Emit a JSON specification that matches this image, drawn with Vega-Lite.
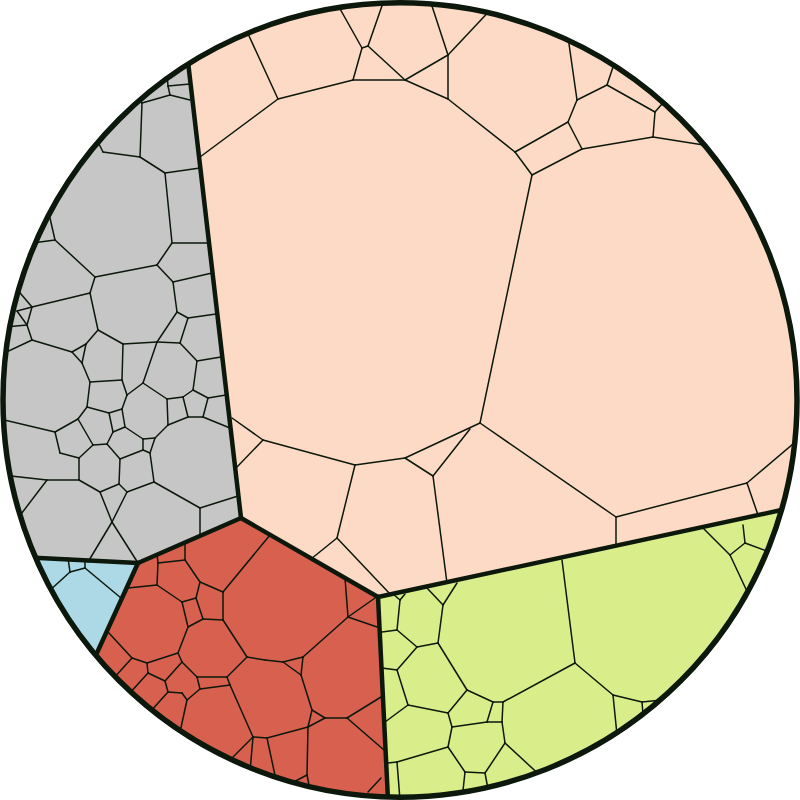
{
  "$schema": "https://vega.github.io/schema/vega-lite/v6.json",
  "width": 800,
  "height": 800,
  "autosize": "none",
  "padding": 0,
  "background": "white",
  "config": {"view": {"stroke": null}},
  "datasets": {
    "regions": [
      {"g": "peach", "i": 0, "x": 175, "y": -50}, {"g": "peach", "i": 1, "x": 850, "y": -50}, {"g": "peach", "i": 2, "x": 850, "y": 495}, {"g": "peach", "i": 3, "x": 378, "y": 597}, {"g": "peach", "i": 4, "x": 241, "y": 518},
      {"g": "gray", "i": 0, "x": 175, "y": -50}, {"g": "gray", "i": 1, "x": 241, "y": 518}, {"g": "gray", "i": 2, "x": 138, "y": 563}, {"g": "gray", "i": 3, "x": -50, "y": 554}, {"g": "gray", "i": 4, "x": -50, "y": -50},
      {"g": "blue", "i": 0, "x": 138, "y": 563}, {"g": "blue", "i": 1, "x": -50, "y": 554}, {"g": "blue", "i": 2, "x": -50, "y": 760}, {"g": "blue", "i": 3, "x": 48, "y": 760},
      {"g": "red", "i": 0, "x": 241, "y": 518}, {"g": "red", "i": 1, "x": 378, "y": 597}, {"g": "red", "i": 2, "x": 390, "y": 850}, {"g": "red", "i": 3, "x": -50, "y": 850}, {"g": "red", "i": 4, "x": -50, "y": 760}, {"g": "red", "i": 5, "x": 48, "y": 760}, {"g": "red", "i": 6, "x": 138, "y": 563},
      {"g": "green", "i": 0, "x": 378, "y": 597}, {"g": "green", "i": 1, "x": 850, "y": 495}, {"g": "green", "i": 2, "x": 850, "y": 850}, {"g": "green", "i": 3, "x": 390, "y": 850}
    ],
    "edges": [
      {"x1": 244, "y1": 25, "x2": 278, "y2": 99}, {"x1": 200, "y1": 157, "x2": 278, "y2": 99}, {"x1": 278, "y1": 99, "x2": 353, "y2": 80}, {"x1": 353, "y1": 80, "x2": 405, "y2": 80}, {"x1": 353, "y1": 80, "x2": 362, "y2": 48}, {"x1": 362, "y1": 48, "x2": 368, "y2": 46}, {"x1": 362, "y1": 48, "x2": 335, "y2": 0}, {"x1": 368, "y1": 46, "x2": 384, "y2": 0}, {"x1": 368, "y1": 46, "x2": 405, "y2": 80}, {"x1": 405, "y1": 80, "x2": 448, "y2": 55}, {"x1": 448, "y1": 55, "x2": 430, "y2": 0}, {"x1": 448, "y1": 55, "x2": 495, "y2": 5}, {"x1": 448, "y1": 55, "x2": 448, "y2": 99}, {"x1": 405, "y1": 80, "x2": 448, "y2": 99}, {"x1": 448, "y1": 99, "x2": 515, "y2": 152}, {"x1": 515, "y1": 152, "x2": 568, "y2": 122}, {"x1": 515, "y1": 152, "x2": 532, "y2": 175}, {"x1": 532, "y1": 175, "x2": 582, "y2": 149}, {"x1": 568, "y1": 122, "x2": 582, "y2": 149}, {"x1": 568, "y1": 122, "x2": 577, "y2": 100}, {"x1": 577, "y1": 100, "x2": 567, "y2": 30}, {"x1": 577, "y1": 100, "x2": 607, "y2": 85}, {"x1": 607, "y1": 85, "x2": 616, "y2": 58}, {"x1": 607, "y1": 85, "x2": 655, "y2": 112}, {"x1": 655, "y1": 112, "x2": 668, "y2": 97}, {"x1": 655, "y1": 112, "x2": 653, "y2": 137}, {"x1": 582, "y1": 149, "x2": 653, "y2": 137}, {"x1": 653, "y1": 137, "x2": 710, "y2": 146}, {"x1": 532, "y1": 175, "x2": 480, "y2": 423}, {"x1": 480, "y1": 423, "x2": 405, "y2": 458}, {"x1": 405, "y1": 458, "x2": 433, "y2": 476}, {"x1": 433, "y1": 476, "x2": 470, "y2": 429}, {"x1": 405, "y1": 458, "x2": 355, "y2": 465}, {"x1": 355, "y1": 465, "x2": 263, "y2": 440}, {"x1": 263, "y1": 440, "x2": 232, "y2": 418}, {"x1": 263, "y1": 440, "x2": 237, "y2": 467}, {"x1": 355, "y1": 465, "x2": 337, "y2": 538}, {"x1": 337, "y1": 538, "x2": 311, "y2": 559}, {"x1": 337, "y1": 538, "x2": 390, "y2": 594}, {"x1": 433, "y1": 476, "x2": 447, "y2": 583}, {"x1": 480, "y1": 423, "x2": 616, "y2": 517}, {"x1": 616, "y1": 517, "x2": 616, "y2": 546}, {"x1": 616, "y1": 517, "x2": 747, "y2": 483}, {"x1": 747, "y1": 483, "x2": 800, "y2": 438}, {"x1": 747, "y1": 483, "x2": 758, "y2": 515},

      {"x1": 167, "y1": 75, "x2": 168, "y2": 86}, {"x1": 168, "y1": 86, "x2": 190, "y2": 84}, {"x1": 168, "y1": 86, "x2": 170, "y2": 95}, {"x1": 170, "y1": 95, "x2": 190, "y2": 100}, {"x1": 170, "y1": 95, "x2": 142, "y2": 103}, {"x1": 142, "y1": 103, "x2": 136, "y2": 93}, {"x1": 142, "y1": 103, "x2": 140, "y2": 157}, {"x1": 140, "y1": 157, "x2": 103, "y2": 152}, {"x1": 103, "y1": 152, "x2": 97, "y2": 140}, {"x1": 140, "y1": 157, "x2": 165, "y2": 173}, {"x1": 165, "y1": 173, "x2": 200, "y2": 168}, {"x1": 165, "y1": 173, "x2": 172, "y2": 243}, {"x1": 172, "y1": 243, "x2": 208, "y2": 243}, {"x1": 172, "y1": 243, "x2": 157, "y2": 265}, {"x1": 47, "y1": 205, "x2": 55, "y2": 240}, {"x1": 55, "y1": 240, "x2": 25, "y2": 244}, {"x1": 55, "y1": 240, "x2": 95, "y2": 277}, {"x1": 95, "y1": 277, "x2": 157, "y2": 265}, {"x1": 157, "y1": 265, "x2": 173, "y2": 282}, {"x1": 173, "y1": 282, "x2": 212, "y2": 273}, {"x1": 173, "y1": 282, "x2": 177, "y2": 312}, {"x1": 177, "y1": 312, "x2": 157, "y2": 342}, {"x1": 177, "y1": 312, "x2": 188, "y2": 318}, {"x1": 188, "y1": 318, "x2": 216, "y2": 314}, {"x1": 188, "y1": 318, "x2": 180, "y2": 343}, {"x1": 180, "y1": 343, "x2": 157, "y2": 342}, {"x1": 180, "y1": 343, "x2": 197, "y2": 361}, {"x1": 197, "y1": 361, "x2": 221, "y2": 357}, {"x1": 197, "y1": 361, "x2": 193, "y2": 390}, {"x1": 193, "y1": 390, "x2": 183, "y2": 397}, {"x1": 193, "y1": 390, "x2": 208, "y2": 398}, {"x1": 208, "y1": 398, "x2": 226, "y2": 395}, {"x1": 208, "y1": 398, "x2": 203, "y2": 417}, {"x1": 203, "y1": 417, "x2": 188, "y2": 417}, {"x1": 203, "y1": 417, "x2": 230, "y2": 428}, {"x1": 188, "y1": 417, "x2": 183, "y2": 397}, {"x1": 188, "y1": 417, "x2": 168, "y2": 425}, {"x1": 183, "y1": 397, "x2": 167, "y2": 399}, {"x1": 167, "y1": 399, "x2": 143, "y2": 383}, {"x1": 167, "y1": 399, "x2": 168, "y2": 425}, {"x1": 168, "y1": 425, "x2": 155, "y2": 438}, {"x1": 155, "y1": 438, "x2": 143, "y2": 439}, {"x1": 155, "y1": 438, "x2": 150, "y2": 453}, {"x1": 143, "y1": 439, "x2": 125, "y2": 427}, {"x1": 143, "y1": 439, "x2": 143, "y2": 450}, {"x1": 143, "y1": 450, "x2": 150, "y2": 453}, {"x1": 143, "y1": 450, "x2": 120, "y2": 459}, {"x1": 150, "y1": 453, "x2": 154, "y2": 482}, {"x1": 154, "y1": 482, "x2": 127, "y2": 492}, {"x1": 154, "y1": 482, "x2": 200, "y2": 508}, {"x1": 200, "y1": 508, "x2": 238, "y2": 496}, {"x1": 200, "y1": 508, "x2": 200, "y2": 537}, {"x1": 127, "y1": 492, "x2": 119, "y2": 484}, {"x1": 127, "y1": 492, "x2": 112, "y2": 522}, {"x1": 119, "y1": 484, "x2": 120, "y2": 459}, {"x1": 119, "y1": 484, "x2": 100, "y2": 492}, {"x1": 100, "y1": 492, "x2": 79, "y2": 480}, {"x1": 100, "y1": 492, "x2": 112, "y2": 522}, {"x1": 112, "y1": 522, "x2": 88, "y2": 562}, {"x1": 112, "y1": 522, "x2": 138, "y2": 563}, {"x1": 79, "y1": 480, "x2": 79, "y2": 458}, {"x1": 79, "y1": 480, "x2": 47, "y2": 480}, {"x1": 47, "y1": 480, "x2": 2, "y2": 475}, {"x1": 47, "y1": 480, "x2": 15, "y2": 522}, {"x1": 79, "y1": 458, "x2": 60, "y2": 453}, {"x1": 79, "y1": 458, "x2": 93, "y2": 445}, {"x1": 60, "y1": 453, "x2": 55, "y2": 432}, {"x1": 55, "y1": 432, "x2": 0, "y2": 419}, {"x1": 55, "y1": 432, "x2": 78, "y2": 419}, {"x1": 78, "y1": 419, "x2": 87, "y2": 407}, {"x1": 78, "y1": 419, "x2": 93, "y2": 445}, {"x1": 93, "y1": 445, "x2": 107, "y2": 444}, {"x1": 107, "y1": 444, "x2": 113, "y2": 432}, {"x1": 107, "y1": 444, "x2": 120, "y2": 459}, {"x1": 113, "y1": 432, "x2": 125, "y2": 427}, {"x1": 113, "y1": 432, "x2": 109, "y2": 413}, {"x1": 109, "y1": 413, "x2": 87, "y2": 407}, {"x1": 109, "y1": 413, "x2": 122, "y2": 409}, {"x1": 122, "y1": 409, "x2": 125, "y2": 427}, {"x1": 122, "y1": 409, "x2": 127, "y2": 395}, {"x1": 127, "y1": 395, "x2": 122, "y2": 380}, {"x1": 127, "y1": 395, "x2": 143, "y2": 383}, {"x1": 143, "y1": 383, "x2": 157, "y2": 342}, {"x1": 122, "y1": 380, "x2": 90, "y2": 382}, {"x1": 122, "y1": 380, "x2": 123, "y2": 344}, {"x1": 123, "y1": 344, "x2": 157, "y2": 342}, {"x1": 123, "y1": 344, "x2": 98, "y2": 330}, {"x1": 90, "y1": 382, "x2": 87, "y2": 407}, {"x1": 90, "y1": 382, "x2": 82, "y2": 363}, {"x1": 98, "y1": 330, "x2": 90, "y2": 293}, {"x1": 90, "y1": 293, "x2": 95, "y2": 277}, {"x1": 98, "y1": 330, "x2": 86, "y2": 344}, {"x1": 86, "y1": 344, "x2": 72, "y2": 352}, {"x1": 86, "y1": 344, "x2": 82, "y2": 363}, {"x1": 72, "y1": 352, "x2": 82, "y2": 363}, {"x1": 72, "y1": 352, "x2": 32, "y2": 340}, {"x1": 32, "y1": 340, "x2": 0, "y2": 355}, {"x1": 32, "y1": 340, "x2": 27, "y2": 325}, {"x1": 27, "y1": 325, "x2": 5, "y2": 327}, {"x1": 27, "y1": 325, "x2": 17, "y2": 311}, {"x1": 27, "y1": 325, "x2": 32, "y2": 307}, {"x1": 17, "y1": 311, "x2": 32, "y2": 307}, {"x1": 32, "y1": 307, "x2": 15, "y2": 287}, {"x1": 32, "y1": 307, "x2": 90, "y2": 293},

      {"x1": 68, "y1": 558, "x2": 70, "y2": 572}, {"x1": 70, "y1": 572, "x2": 85, "y2": 568}, {"x1": 85, "y1": 568, "x2": 85, "y2": 561}, {"x1": 70, "y1": 572, "x2": 48, "y2": 592}, {"x1": 85, "y1": 568, "x2": 121, "y2": 598},

      {"x1": 157, "y1": 554, "x2": 158, "y2": 563}, {"x1": 158, "y1": 563, "x2": 185, "y2": 560}, {"x1": 185, "y1": 560, "x2": 185, "y2": 542}, {"x1": 158, "y1": 563, "x2": 157, "y2": 585}, {"x1": 157, "y1": 585, "x2": 128, "y2": 588}, {"x1": 185, "y1": 560, "x2": 200, "y2": 582}, {"x1": 157, "y1": 585, "x2": 182, "y2": 602}, {"x1": 182, "y1": 602, "x2": 196, "y2": 598}, {"x1": 196, "y1": 598, "x2": 200, "y2": 582}, {"x1": 196, "y1": 598, "x2": 203, "y2": 619}, {"x1": 203, "y1": 619, "x2": 188, "y2": 627}, {"x1": 188, "y1": 627, "x2": 182, "y2": 602}, {"x1": 203, "y1": 619, "x2": 223, "y2": 620}, {"x1": 223, "y1": 620, "x2": 223, "y2": 592}, {"x1": 223, "y1": 592, "x2": 200, "y2": 582}, {"x1": 223, "y1": 592, "x2": 270, "y2": 535}, {"x1": 223, "y1": 620, "x2": 247, "y2": 657}, {"x1": 188, "y1": 627, "x2": 178, "y2": 653}, {"x1": 178, "y1": 653, "x2": 147, "y2": 663}, {"x1": 147, "y1": 663, "x2": 132, "y2": 658}, {"x1": 132, "y1": 658, "x2": 108, "y2": 632}, {"x1": 132, "y1": 658, "x2": 112, "y2": 680}, {"x1": 147, "y1": 663, "x2": 148, "y2": 673}, {"x1": 148, "y1": 673, "x2": 128, "y2": 695}, {"x1": 148, "y1": 673, "x2": 165, "y2": 681}, {"x1": 178, "y1": 653, "x2": 182, "y2": 662}, {"x1": 182, "y1": 662, "x2": 165, "y2": 681}, {"x1": 182, "y1": 662, "x2": 197, "y2": 677}, {"x1": 165, "y1": 681, "x2": 168, "y2": 692}, {"x1": 168, "y1": 692, "x2": 150, "y2": 712}, {"x1": 168, "y1": 692, "x2": 182, "y2": 693}, {"x1": 182, "y1": 693, "x2": 187, "y2": 700}, {"x1": 187, "y1": 700, "x2": 180, "y2": 732}, {"x1": 187, "y1": 700, "x2": 200, "y2": 689}, {"x1": 200, "y1": 689, "x2": 197, "y2": 677}, {"x1": 197, "y1": 677, "x2": 227, "y2": 677}, {"x1": 227, "y1": 677, "x2": 230, "y2": 685}, {"x1": 230, "y1": 685, "x2": 200, "y2": 689}, {"x1": 227, "y1": 677, "x2": 247, "y2": 657}, {"x1": 230, "y1": 685, "x2": 253, "y2": 737}, {"x1": 253, "y1": 737, "x2": 228, "y2": 762}, {"x1": 253, "y1": 737, "x2": 267, "y2": 738}, {"x1": 253, "y1": 737, "x2": 250, "y2": 772}, {"x1": 247, "y1": 657, "x2": 265, "y2": 660}, {"x1": 265, "y1": 660, "x2": 283, "y2": 662}, {"x1": 283, "y1": 662, "x2": 303, "y2": 657}, {"x1": 283, "y1": 662, "x2": 301, "y2": 675}, {"x1": 301, "y1": 675, "x2": 303, "y2": 657}, {"x1": 303, "y1": 657, "x2": 348, "y2": 617}, {"x1": 348, "y1": 617, "x2": 345, "y2": 578}, {"x1": 348, "y1": 617, "x2": 380, "y2": 628}, {"x1": 348, "y1": 617, "x2": 375, "y2": 598}, {"x1": 301, "y1": 675, "x2": 312, "y2": 710}, {"x1": 312, "y1": 710, "x2": 325, "y2": 718}, {"x1": 312, "y1": 710, "x2": 308, "y2": 727}, {"x1": 308, "y1": 727, "x2": 325, "y2": 718}, {"x1": 325, "y1": 718, "x2": 347, "y2": 718}, {"x1": 347, "y1": 718, "x2": 381, "y2": 697}, {"x1": 347, "y1": 718, "x2": 384, "y2": 750}, {"x1": 308, "y1": 727, "x2": 267, "y2": 738}, {"x1": 308, "y1": 727, "x2": 307, "y2": 775}, {"x1": 307, "y1": 775, "x2": 288, "y2": 785}, {"x1": 307, "y1": 775, "x2": 312, "y2": 800}, {"x1": 267, "y1": 738, "x2": 276, "y2": 780}, {"x1": 368, "y1": 792, "x2": 381, "y2": 778},

      {"x1": 393, "y1": 594, "x2": 400, "y2": 600}, {"x1": 400, "y1": 600, "x2": 405, "y2": 594}, {"x1": 400, "y1": 600, "x2": 397, "y2": 630}, {"x1": 397, "y1": 630, "x2": 382, "y2": 632}, {"x1": 397, "y1": 630, "x2": 417, "y2": 647}, {"x1": 417, "y1": 647, "x2": 438, "y2": 643}, {"x1": 417, "y1": 647, "x2": 397, "y2": 670}, {"x1": 438, "y1": 643, "x2": 443, "y2": 605}, {"x1": 443, "y1": 605, "x2": 427, "y2": 588}, {"x1": 443, "y1": 605, "x2": 457, "y2": 583}, {"x1": 438, "y1": 643, "x2": 467, "y2": 690}, {"x1": 467, "y1": 690, "x2": 493, "y2": 702}, {"x1": 493, "y1": 702, "x2": 503, "y2": 702}, {"x1": 493, "y1": 702, "x2": 487, "y2": 722}, {"x1": 503, "y1": 702, "x2": 502, "y2": 722}, {"x1": 487, "y1": 722, "x2": 502, "y2": 722}, {"x1": 502, "y1": 722, "x2": 505, "y2": 743}, {"x1": 505, "y1": 743, "x2": 545, "y2": 780}, {"x1": 503, "y1": 702, "x2": 575, "y2": 663}, {"x1": 467, "y1": 690, "x2": 448, "y2": 713}, {"x1": 575, "y1": 663, "x2": 562, "y2": 560}, {"x1": 575, "y1": 663, "x2": 613, "y2": 695}, {"x1": 613, "y1": 695, "x2": 642, "y2": 702}, {"x1": 642, "y1": 702, "x2": 662, "y2": 700}, {"x1": 642, "y1": 702, "x2": 643, "y2": 714}, {"x1": 613, "y1": 695, "x2": 617, "y2": 735}, {"x1": 397, "y1": 670, "x2": 382, "y2": 668}, {"x1": 397, "y1": 670, "x2": 408, "y2": 705}, {"x1": 408, "y1": 705, "x2": 448, "y2": 713}, {"x1": 408, "y1": 705, "x2": 385, "y2": 722}, {"x1": 448, "y1": 713, "x2": 452, "y2": 727}, {"x1": 452, "y1": 727, "x2": 487, "y2": 722}, {"x1": 452, "y1": 727, "x2": 448, "y2": 747}, {"x1": 448, "y1": 747, "x2": 397, "y2": 762}, {"x1": 397, "y1": 762, "x2": 388, "y2": 763}, {"x1": 397, "y1": 762, "x2": 400, "y2": 800}, {"x1": 448, "y1": 747, "x2": 465, "y2": 772}, {"x1": 465, "y1": 772, "x2": 485, "y2": 773}, {"x1": 465, "y1": 772, "x2": 462, "y2": 800}, {"x1": 485, "y1": 773, "x2": 490, "y2": 800}, {"x1": 505, "y1": 743, "x2": 485, "y2": 773}, {"x1": 703, "y1": 528, "x2": 730, "y2": 555}, {"x1": 730, "y1": 555, "x2": 745, "y2": 543}, {"x1": 745, "y1": 543, "x2": 743, "y2": 525}, {"x1": 745, "y1": 543, "x2": 772, "y2": 553}, {"x1": 730, "y1": 555, "x2": 752, "y2": 602}
    ],
    "borders": [
      {"x1": 182, "y1": 10, "x2": 241, "y2": 518},
      {"x1": 241, "y1": 518, "x2": 378, "y2": 597},
      {"x1": 378, "y1": 597, "x2": 800, "y2": 506},
      {"x1": 378, "y1": 597, "x2": 389, "y2": 820},
      {"x1": 241, "y1": 518, "x2": 138, "y2": 563},
      {"x1": 138, "y1": 563, "x2": 0, "y2": 556},
      {"x1": 138, "y1": 563, "x2": 80, "y2": 690}
    ],
    "center": [{"x": 400, "y": 400}]
  },
  "layer": [
    {
      "data": {"name": "regions"},
      "mark": {"type": "line", "interpolate": "linear-closed", "strokeWidth": 1},
      "encoding": {
        "x": {"field": "x", "type": "quantitative", "scale": {"domain": [0, 800], "nice": false, "zero": false}, "axis": null},
        "y": {"field": "y", "type": "quantitative", "scale": {"domain": [0, 800], "nice": false, "zero": false, "reverse": true}, "axis": null},
        "detail": {"field": "g"},
        "order": {"field": "i", "type": "quantitative"},
        "fill": {"field": "g", "type": "nominal", "scale": {"domain": ["peach", "gray", "blue", "red", "green"], "range": ["#FDDAC6", "#C6C6C6", "#ADD8E6", "#D8604E", "#D9ED8B"]}, "legend": null},
        "stroke": {"field": "g", "type": "nominal", "scale": {"domain": ["peach", "gray", "blue", "red", "green"], "range": ["#FDDAC6", "#C6C6C6", "#ADD8E6", "#D8604E", "#D9ED8B"]}, "legend": null}
      }
    },
    {
      "data": {"name": "edges"},
      "mark": {"type": "rule", "color": "#0b180b", "strokeWidth": 1.5, "strokeCap": "round"},
      "encoding": {
        "x": {"field": "x1", "type": "quantitative", "scale": {"domain": [0, 800], "nice": false, "zero": false}, "axis": null},
        "y": {"field": "y1", "type": "quantitative", "scale": {"domain": [0, 800], "nice": false, "zero": false, "reverse": true}, "axis": null},
        "x2": {"field": "x2"},
        "y2": {"field": "y2"}
      }
    },
    {
      "data": {"name": "borders"},
      "mark": {"type": "rule", "color": "#0b180b", "strokeWidth": 4.5, "strokeCap": "round"},
      "encoding": {
        "x": {"field": "x1", "type": "quantitative", "scale": {"domain": [0, 800], "nice": false, "zero": false}, "axis": null},
        "y": {"field": "y1", "type": "quantitative", "scale": {"domain": [0, 800], "nice": false, "zero": false, "reverse": true}, "axis": null},
        "x2": {"field": "x2"},
        "y2": {"field": "y2"}
      }
    },
    {
      "data": {"name": "center"},
      "mark": {"type": "point", "shape": "circle", "filled": false, "stroke": "white", "strokeWidth": 184, "size": 960400, "opacity": 1},
      "encoding": {
        "x": {"field": "x", "type": "quantitative", "scale": {"domain": [0, 800], "nice": false, "zero": false}, "axis": null},
        "y": {"field": "y", "type": "quantitative", "scale": {"domain": [0, 800], "nice": false, "zero": false, "reverse": true}, "axis": null}
      }
    },
    {
      "data": {"name": "center"},
      "mark": {"type": "point", "shape": "circle", "filled": false, "stroke": "#0b180b", "strokeWidth": 5.5, "size": 630436, "opacity": 1},
      "encoding": {
        "x": {"field": "x", "type": "quantitative", "scale": {"domain": [0, 800], "nice": false, "zero": false}, "axis": null},
        "y": {"field": "y", "type": "quantitative", "scale": {"domain": [0, 800], "nice": false, "zero": false, "reverse": true}, "axis": null}
      }
    }
  ]
}
